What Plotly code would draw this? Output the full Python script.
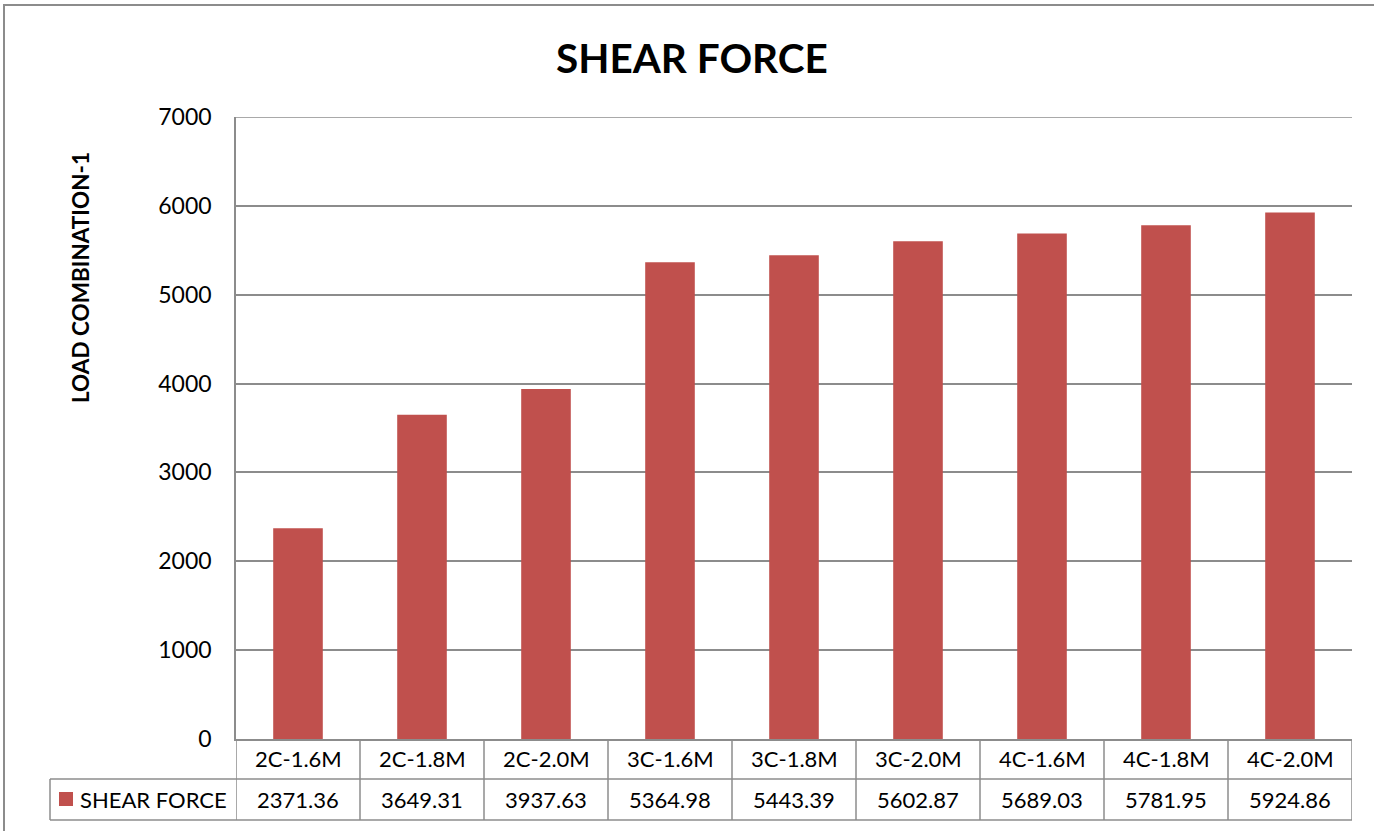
import plotly.graph_objects as go

categories = ["2C-1.6M", "2C-1.8M", "2C-2.0M", "3C-1.6M", "3C-1.8M",
              "3C-2.0M", "4C-1.6M", "4C-1.8M", "4C-2.0M"]
shear_force = [2371.36, 3649.31, 3937.63, 5364.98, 5443.39,
               5602.87, 5689.03, 5781.95, 5924.86]
y_ticks = [0, 1000, 2000, 3000, 4000, 5000, 6000, 7000]
series_name = "SHEAR FORCE"

W, H = 1374, 831
L, R, T, B = 236, 1352, 117, 739  # plot area in pixels
PW, PH = R - L, B - T

BAR = "#C0504D"
GRID = "#8C8C8C"
FONT = "Lato, Carlito, 'Open Sans', sans-serif"
TXT = 22


def px(x):
    return (x - L) / PW


def py(y):
    return (B - y) / PH


fig = go.Figure()
fig.add_trace(go.Bar(
    x=list(range(len(categories))), y=shear_force, name=series_name,
    marker=dict(color=BAR, line=dict(width=0)), width=0.4,
))

shapes = []
# outer chart border
shapes.append(dict(type="rect", xref="paper", yref="paper",
                   x0=px(4), x1=px(1380), y0=py(5), y1=py(840),
                   line=dict(color=GRID, width=2), layer="below"))
# top gridline at the axis maximum
shapes.append(dict(type="line", xref="paper", yref="y",
                   x0=0, x1=1, y0=y_ticks[-1], y1=y_ticks[-1],
                   line=dict(color=GRID, width=1.5)))

n = len(categories)
row1, row2, row3 = 739, 779, 820
# data table horizontal lines
for yy, x0 in [(row2, 50), (row3, 50)]:
    shapes.append(dict(type="line", xref="paper", yref="paper",
                       x0=px(x0), x1=1, y0=py(yy), y1=py(yy),
                       line=dict(color=GRID, width=1.5)))
# data table vertical lines between categories
for i in range(n + 1):
    shapes.append(dict(type="line", xref="x", yref="paper",
                       x0=i - 0.5, x1=i - 0.5, y0=py(row1), y1=py(row3),
                       line=dict(color=GRID, width=1.5)))
shapes.append(dict(type="line", xref="paper", yref="paper",
                   x0=px(50), x1=px(50), y0=py(row2), y1=py(row3),
                   line=dict(color=GRID, width=1.5)))
# legend key in the table
shapes.append(dict(type="rect", xref="paper", yref="paper",
                   x0=px(59), x1=px(73), y0=py(806), y1=py(792),
                   fillcolor=BAR, line=dict(width=0)))

annotations = []
for i, (c, v) in enumerate(zip(categories, shear_force)):
    annotations.append(dict(x=i, xref="x", y=py((row1 + row2) / 2), yref="paper",
                            text=c, showarrow=False, xanchor="center", yanchor="middle",
                            font=dict(family=FONT, size=TXT, color="#000")))
    annotations.append(dict(x=i, xref="x", y=py((row2 + row3) / 2), yref="paper",
                            text=f"{v:.2f}", showarrow=False, xanchor="center", yanchor="middle",
                            font=dict(family=FONT, size=TXT, color="#000")))
annotations.append(dict(x=px(78), xref="paper", y=py((row2 + row3) / 2), yref="paper",
                        text=series_name, showarrow=False, xanchor="left", yanchor="middle",
                        font=dict(family=FONT, size=TXT, color="#000")))
# axis title
annotations.append(dict(x=px(80), xref="paper", y=py(278), yref="paper",
                        text="<b>LOAD COMBINATION-1</b>", showarrow=False, textangle=-90,
                        xanchor="center", yanchor="middle",
                        font=dict(family=FONT, size=22.5, color="#000")))
# chart title
annotations.append(dict(x=px(692), xref="paper", y=py(57), yref="paper",
                        text="<b>SHEAR FORCE</b>", showarrow=False,
                        xanchor="center", yanchor="middle",
                        font=dict(family=FONT, size=40.5, color="#000")))

fig.update_layout(
    width=W, height=H,
    margin=dict(l=L, r=W - R, t=T, b=H - B, pad=0),
    paper_bgcolor="white", plot_bgcolor="white",
    showlegend=False,
    shapes=shapes, annotations=annotations,
    xaxis=dict(range=[-0.5, n - 0.5], showticklabels=False, showgrid=False,
               zeroline=False, showline=True, linecolor=GRID, linewidth=1.5,
               fixedrange=True),
    yaxis=dict(range=[0, 7000], tickvals=y_ticks, showgrid=True, gridcolor=GRID,
               gridwidth=1.5, zeroline=False, showline=True, linecolor=GRID,
               linewidth=1.5, ticks="", ticklabelstandoff=18,
               tickfont=dict(family=FONT, size=23, color="#000"), fixedrange=True),
    bargap=0.6,
)

fig.write_html("out.html")
